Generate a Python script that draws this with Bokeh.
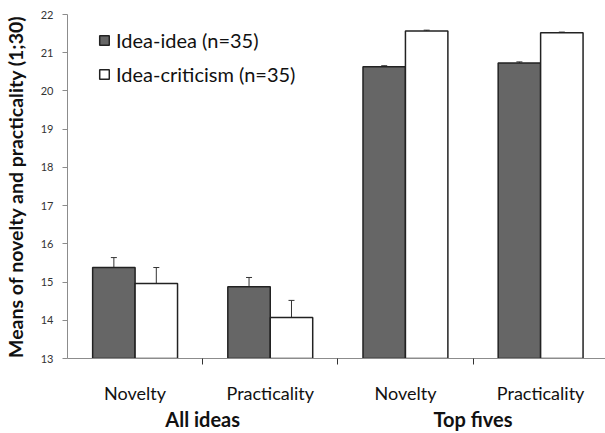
from bokeh.plotting import figure
from bokeh.models import (ColumnDataSource, FixedTicker, Whisker, TeeHead, Legend,
                          LegendItem, Range1d, LinearAxis)
from bokeh.embed import file_html
from bokeh.resources import INLINE

groups = ["All ideas", "Top fives"]
measures = ["Novelty", "Practicality", "Novelty", "Practicality"]
idea_idea = [15.38, 14.88, 20.63, 20.73]
idea_idea_err = [0.26, 0.24, 0.03, 0.03]
idea_crit = [14.96, 14.07, 21.57, 21.52]
idea_crit_err = [0.42, 0.45, 0.02, 0.02]
y_ticks = [13, 14, 15, 16, 17, 18, 19, 20, 21, 22]

FONT = "Lato"
centers = [i + 0.5 for i in range(len(measures))]
group_centers = [2 * i + 1 for i in range(len(groups))]
separators = [1, 2, 3]
off = 0.157
bw = 0.314

src_a = ColumnDataSource(dict(x=[c - off for c in centers], top=idea_idea,
                              upper=[v + e for v, e in zip(idea_idea, idea_idea_err)]))
src_b = ColumnDataSource(dict(x=[c + off for c in centers], top=idea_crit,
                              upper=[v + e for v, e in zip(idea_crit, idea_crit_err)]))

p = figure(width=605, height=433, output_backend="svg", toolbar_location=None,
           x_range=Range1d(0, 3.98), y_range=Range1d(13, 22), x_axis_location=None,
           min_border_left=66, min_border_right=0, min_border_top=14, min_border_bottom=75)
p.outline_line_color = None
p.grid.visible = False
p.background_fill_color = "white"

ra = p.vbar(x="x", top="top", bottom=13, width=bw, source=src_a,
            fill_color="#666666", line_color="#222222", line_width=1.5)
rb = p.vbar(x="x", top="top", bottom=13, width=bw, source=src_b,
            fill_color="white", line_color="#222222", line_width=1.5)

for s in (src_a, src_b):
    p.add_layout(Whisker(base="x", upper="upper", lower="top", source=s,
                         line_color="#333333", line_width=1,
                         upper_head=TeeHead(size=6, line_color="#333333", line_width=1),
                         lower_head=None))

# y axis
ya = p.yaxis[0]
ya.ticker = FixedTicker(ticks=y_ticks)
ya.minor_tick_line_color = None
ya.major_tick_in = 0
ya.major_tick_out = 5
ya.major_label_standoff = 9
ya.axis_line_color = "#8c8c8c"
ya.major_tick_line_color = "#8c8c8c"
ya.major_label_text_font = FONT
ya.major_label_text_font_size = "11px"
ya.major_label_text_color = "#333333"
ya.axis_label = "Means of novelty and practicality (1;30)"
ya.axis_label_text_font = FONT
ya.axis_label_text_font_style = "bold"
ya.axis_label_text_font_size = "19.5px"
ya.axis_label_text_color = "#111111"
ya.axis_label_standoff = 11

# x axis with category labels (major) and separator ticks (minor)
xa = LinearAxis(ticker=FixedTicker(ticks=centers, minor_ticks=separators))
xa.major_label_overrides = {c: m for c, m in zip(centers, measures)}
xa.major_tick_in = 0
xa.major_tick_out = 0
xa.minor_tick_in = 0
xa.minor_tick_out = 6
xa.minor_tick_line_color = "#333333"
xa.axis_line_color = "#8c8c8c"
xa.major_label_standoff = 17
xa.major_label_text_font = FONT
xa.major_label_text_font_size = "18px"
xa.major_label_text_color = "#111111"
p.add_layout(xa, "below")

ga = LinearAxis(ticker=FixedTicker(ticks=group_centers, minor_ticks=[]))
ga.major_label_overrides = {c: g for c, g in zip(group_centers, groups)}
ga.axis_line_color = None
ga.major_tick_line_color = None
ga.minor_tick_line_color = None
ga.major_tick_in = 0
ga.major_tick_out = 0
ga.major_label_standoff = 0
ga.major_label_text_font = FONT
ga.major_label_text_font_style = "bold"
ga.major_label_text_font_size = "20px"
ga.major_label_text_color = "#111111"
p.add_layout(ga, "below")

legend = Legend(items=[LegendItem(label="Idea-idea (n=35)", renderers=[ra]),
                       LegendItem(label="Idea-criticism (n=35)", renderers=[rb])],
                location=(31, 272), padding=0, margin=0, spacing=10,
                glyph_width=12, glyph_height=12, label_standoff=6,
                label_text_font=FONT, label_text_font_size="20px",
                label_text_color="#111111",
                border_line_color=None, background_fill_alpha=0)
p.add_layout(legend)

open("out.html", "w").write(file_html(p, INLINE))
